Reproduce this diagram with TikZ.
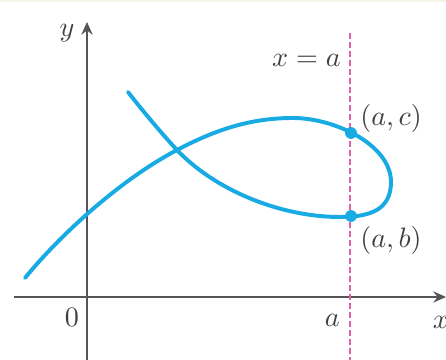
\documentclass[tikz,border=0pt]{standalone}
\usepackage{xcolor}
\usepackage{amsmath,amssymb}
\usepackage{tikz}
\usetikzlibrary{arrows.meta, positioning, calc}

\definecolor{curvecyan}{RGB}{24,170,226}
\definecolor{linepink}{RGB}{226,96,170}
\definecolor{axisgray}{RGB}{85,85,85}
\definecolor{bandbeige}{RGB}{246,243,232}

\begin{document}
\begin{tikzpicture}[
    x=0.0125cm, y=-0.0125cm,
    axis/.style={draw=axisgray, line width=0.7pt, -{Stealth[length=4.5pt, width=4pt]}},
    curve/.style={draw=curvecyan, line width=1.4pt, line cap=round},
    vline/.style={draw=linepink, line width=0.55pt, dash pattern=on 2pt off 1.2pt},
    dot/.style={circle, fill=curvecyan, inner sep=0pt, minimum size=4.2pt},
    lab/.style={font=\normalsize, text=black!75, inner sep=1pt}
]
    \useasboundingbox (0,0) rectangle (446,360);
    \fill[bandbeige] (0,0) rectangle (446,2);

    % axes
    \coordinate (xstart) at (14,297);
    \coordinate (xend) at (446,297);
    \coordinate (ystart) at (87,360);
    \coordinate (yend) at (87,22);
    \draw[axis] (xstart) -- (xend);
    \draw[axis] (ystart) -- (yend);
    \node[lab] (ylab) at (67,33) {$y$};
    \node[lab] (xlab) at (441,322) {$x$};
    \node[lab] (zero) at (72,317) {$0$};

    % the line x = a
    \coordinate (vtop) at (350,33);
    \coordinate (vbot) at (350,360);
    \draw[vline] (vtop) -- (vbot);
    \node[lab, anchor=east] (xeqa) at (344,60) {$x = a$};
    \node[lab, anchor=east] (alab) at (343,320) {$a$};

    % the curve
    \coordinate (start) at (25,278);
    \coordinate (cross) at (177,150);
    \coordinate (peak) at (293,118);
    \coordinate (tip) at (391,182);
    \coordinate (low) at (340,217);
    \coordinate (finish) at (128,92);
    \draw[curve] (start) .. controls (60,235) and (120,180) .. (cross)
        .. controls (215,130) and (250,118) .. (peak)
        .. controls (335,118) and (391,145) .. (tip)
        .. controls (391,210) and (370,217) .. (low)
        .. controls (280,217) and (215,190) .. (cross)
        .. controls (162,134) and (142,110) .. (finish);

    % the two points
    \node[dot] (pc) at (351,133) {};
    \node[dot] (pb) at (351,216) {};
    \node[lab, anchor=west] (pclab) at (357,118) {$(a, c)$};
    \node[lab, anchor=west] (pblab) at (357,240) {$(a, b)$};
\end{tikzpicture}
\end{document}
